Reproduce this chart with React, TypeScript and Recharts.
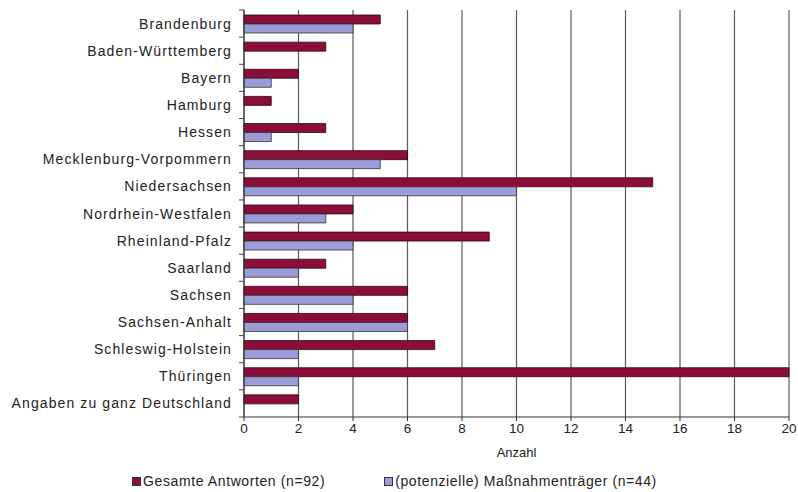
import { BarChart, Bar, XAxis, YAxis, CartesianGrid, Legend } from 'recharts';

const categories = [
  'Brandenburg',
  'Baden-Württemberg',
  'Bayern',
  'Hamburg',
  'Hessen',
  'Mecklenburg-Vorpommern',
  'Niedersachsen',
  'Nordrhein-Westfalen',
  'Rheinland-Pfalz',
  'Saarland',
  'Sachsen',
  'Sachsen-Anhalt',
  'Schleswig-Holstein',
  'Thüringen',
  'Angaben zu ganz Deutschland',
];

// Gesamte Antworten (n=92)
const gesamt = [5, 3, 2, 1, 3, 6, 15, 4, 9, 3, 6, 6, 7, 20, 2];
// (potenzielle) Maßnahmenträger (n=44)
const traeger = [4, 0, 1, 0, 1, 5, 10, 3, 4, 2, 4, 6, 2, 2, 0];

const xTicks = [0, 2, 4, 6, 8, 10, 12, 14, 16, 18, 20];

const seriesNames = ['Gesamte Antworten (n=92)', '(potenzielle) Maßnahmenträger (n=44)'];

const RED = '#8c0c3a';
const BLUE = '#9c9cd8';
const FONT = '"Liberation Sans", Arial, sans-serif';

// layout
const WIDTH = 798;
const HEIGHT = 492;
const MARGIN = { top: 10, right: 9, left: 0, bottom: 3 };
const X_AXIS_H = 56;
const LEGEND_H = 16;
const Y_AXIS_W = 244;
const BAND = (HEIGHT - MARGIN.top - MARGIN.bottom - X_AXIS_H - LEGEND_H) / categories.length;

const data = categories.map((name, i) => ({ name, gesamt: gesamt[i], traeger: traeger[i] }));

// label plus the small separator ticks between categories
const CategoryTick = ({ x, y, payload, index }: any) => {
  const axisX = x + 12;
  return (
    <g>
      <line x1={axisX - 5} x2={axisX} y1={y - BAND / 2} y2={y - BAND / 2} stroke="#444" />
      {index === categories.length - 1 && (
        <line x1={axisX - 5} x2={axisX} y1={y + BAND / 2} y2={y + BAND / 2} stroke="#444" />
      )}
      <text
        x={x}
        y={y}
        dy={5}
        textAnchor="end"
        fontFamily={FONT}
        fontSize={14}
        letterSpacing={1.1}
        fill="#222"
      >
        {payload.value}
      </text>
    </g>
  );
};

const LegendBox = () => (
  <div
    style={{
      display: 'flex',
      justifyContent: 'center',
      gap: 59,
      height: LEGEND_H,
      fontFamily: FONT,
      fontSize: 14,
      letterSpacing: 0.6,
      color: '#222',
    }}
  >
    {seriesNames.map((label, i) => (
      <span key={label} style={{ display: 'flex', alignItems: 'center' }}>
        <span
          style={{
            width: 7,
            height: 7,
            marginRight: 2,
            background: i === 0 ? RED : BLUE,
            border: '1px solid #333',
          }}
        />
        {label}
      </span>
    ))}
  </div>
);

export default function App() {
  return (
    <div>
      <style>{'body{margin:0;background:#fff}'}</style>
      <BarChart
        width={WIDTH}
        height={HEIGHT}
        data={data}
        layout="vertical"
        margin={MARGIN}
        barSize={9}
        barGap={0}
      >
        <CartesianGrid horizontal={false} stroke="#5a5a5a" strokeWidth={1.2} />
        <YAxis
          type="category"
          dataKey="name"
          width={Y_AXIS_W}
          tickLine={false}
          tickMargin={6}
          axisLine={{ stroke: '#333' }}
          tick={<CategoryTick />}
          interval={0}
        />
        <XAxis
          type="number"
          domain={[0, 20]}
          ticks={xTicks}
          interval={0}
          tickSize={4}
          tickLine={{ stroke: '#333' }}
          axisLine={{ stroke: '#333' }}
          tick={{ fontFamily: FONT, fontSize: 13.5, fill: '#222' }}
          height={X_AXIS_H}
          label={{
            value: 'Anzahl',
            position: 'insideBottom',
            offset: 16,
            style: { fontFamily: FONT, fontSize: 13, fill: '#222' },
          }}
        />
        <XAxis
          xAxisId="top"
          type="number"
          orientation="top"
          domain={[0, 20]}
          tick={false}
          tickLine={false}
          height={0}
          axisLine={{ stroke: '#888' }}
        />
        <Legend verticalAlign="bottom" height={LEGEND_H} content={<LegendBox />} />
        <Bar dataKey="gesamt" fill={RED} stroke="#2a0a14" strokeWidth={0.8} isAnimationActive={false} />
        <Bar dataKey="traeger" fill={BLUE} stroke="#333" strokeWidth={0.8} isAnimationActive={false} />
      </BarChart>
    </div>
  );
}
